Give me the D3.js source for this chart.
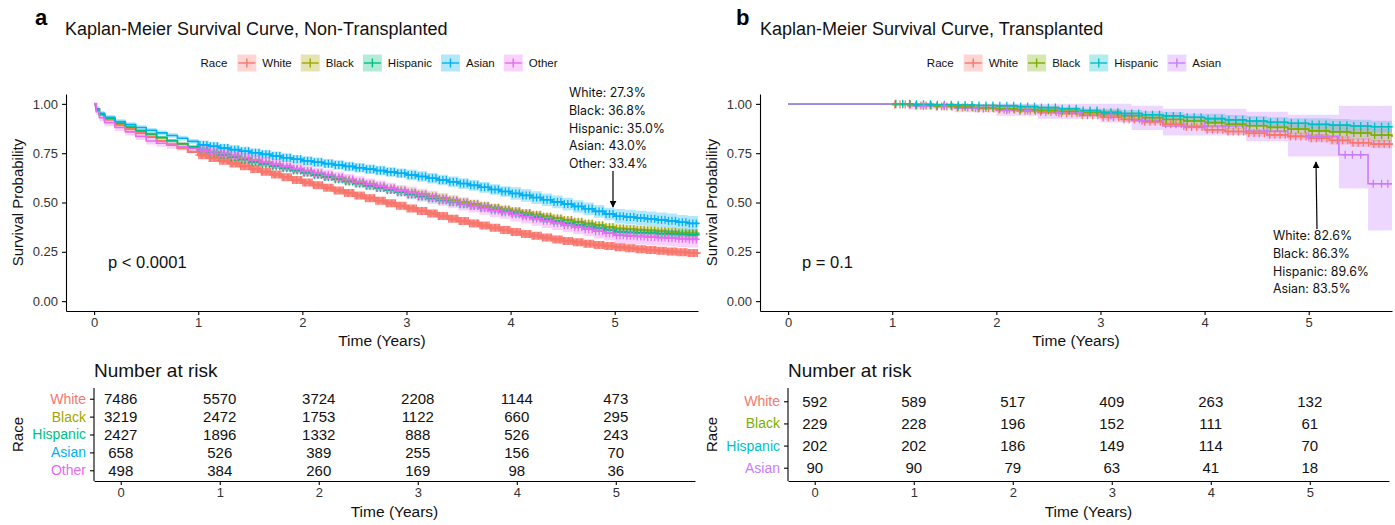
<!DOCTYPE html>
<html>
<head>
<meta charset="utf-8">
<script src="https://cdn.jsdelivr.net/npm/d3@7"></script>
<style>
  body { margin: 0; background: #fff; }
  svg text { font-family: "Liberation Sans", Arial, sans-serif; }
</style>
</head>
<body>
<svg id="chart" width="1395" height="525"></svg>
<script>
// ---- panel a : non-transplanted ----
const timesA = [0, 0.02, 0.05, 0.1, 0.2, 0.3, 0.4, 0.5, 0.6, 0.7, 0.8, 0.9,
  1.0, 1.1, 1.2, 1.3, 1.4, 1.5, 1.6, 1.7, 1.8, 1.9, 2.0, 2.1, 2.2, 2.3, 2.4, 2.5, 2.6, 2.7, 2.8, 2.9,
  3.0, 3.1, 3.2, 3.3, 3.4, 3.5, 3.6, 3.7, 3.8, 3.9, 4.0, 4.1, 4.2, 4.3, 4.4, 4.5, 4.6, 4.7, 4.8, 4.9,
  5.0, 5.1, 5.2, 5.3, 5.4, 5.5, 5.6, 5.7, 5.8];

const survWhiteA = [1.000, 0.972, 0.945, 0.920, 0.892, 0.872, 0.852, 0.832, 0.812, 0.795, 0.775, 0.757,
  0.740, 0.726, 0.712, 0.698, 0.684, 0.670, 0.656, 0.642, 0.628, 0.614, 0.601, 0.588, 0.575, 0.561, 0.548, 0.535, 0.522, 0.509, 0.496, 0.483,
  0.470, 0.457, 0.444, 0.431, 0.418, 0.406, 0.394, 0.383, 0.372, 0.361, 0.350, 0.340, 0.331, 0.322, 0.313, 0.305, 0.298, 0.291, 0.285, 0.279,
  0.273, 0.268, 0.263, 0.259, 0.255, 0.251, 0.248, 0.244, 0.241];
const survBlackA = [1.000, 0.970, 0.946, 0.925, 0.900, 0.880, 0.862, 0.845, 0.828, 0.812, 0.797, 0.781,
  0.766, 0.755, 0.744, 0.733, 0.722, 0.711, 0.700, 0.689, 0.678, 0.667, 0.656, 0.645, 0.634, 0.623, 0.612, 0.601, 0.591, 0.581, 0.571, 0.561,
  0.551, 0.541, 0.531, 0.521, 0.511, 0.501, 0.492, 0.483, 0.474, 0.465, 0.456, 0.447, 0.438, 0.429, 0.420, 0.411, 0.402, 0.393, 0.385, 0.376,
  0.368, 0.365, 0.361, 0.358, 0.354, 0.351, 0.347, 0.344, 0.341];
const survHispanicA = [1.000, 0.972, 0.948, 0.927, 0.902, 0.882, 0.864, 0.847, 0.830, 0.814, 0.798, 0.782,
  0.766, 0.754, 0.742, 0.730, 0.718, 0.706, 0.695, 0.684, 0.673, 0.662, 0.651, 0.640, 0.629, 0.618, 0.607, 0.596, 0.585, 0.574, 0.563, 0.552,
  0.541, 0.531, 0.521, 0.511, 0.501, 0.491, 0.482, 0.473, 0.464, 0.455, 0.446, 0.436, 0.426, 0.416, 0.406, 0.396, 0.387, 0.378, 0.369, 0.359,
  0.350, 0.348, 0.346, 0.344, 0.342, 0.340, 0.338, 0.336, 0.334];
const survAsianA = [1.000, 0.975, 0.952, 0.932, 0.910, 0.895, 0.880, 0.866, 0.853, 0.840, 0.826, 0.810,
  0.792, 0.785, 0.776, 0.768, 0.760, 0.752, 0.744, 0.736, 0.727, 0.719, 0.711, 0.704, 0.697, 0.690, 0.683, 0.676, 0.669, 0.662, 0.655, 0.648,
  0.640, 0.632, 0.623, 0.614, 0.605, 0.596, 0.587, 0.577, 0.566, 0.556, 0.546, 0.536, 0.525, 0.514, 0.503, 0.492, 0.480, 0.468, 0.455, 0.442,
  0.430, 0.426, 0.421, 0.417, 0.412, 0.407, 0.400, 0.394, 0.390];
const survOtherA = [1.000, 0.960, 0.930, 0.905, 0.880, 0.858, 0.835, 0.812, 0.800, 0.790, 0.782, 0.774,
  0.766, 0.757, 0.748, 0.738, 0.727, 0.716, 0.705, 0.694, 0.683, 0.671, 0.660, 0.649, 0.638, 0.627, 0.616, 0.604, 0.593, 0.582, 0.571, 0.560,
  0.548, 0.537, 0.526, 0.515, 0.504, 0.493, 0.482, 0.471, 0.460, 0.450, 0.440, 0.429, 0.418, 0.407, 0.396, 0.385, 0.375, 0.365, 0.354, 0.344,
  0.334, 0.331, 0.328, 0.325, 0.322, 0.319, 0.316, 0.313, 0.310];

// confidence half-widths, one per whole year 0..5
const ciYears = [0, 1, 2, 3, 4, 5];
const ciWhiteA = [0.005, 0.010, 0.011, 0.012, 0.013, 0.014];
const ciBlackA = [0.008, 0.013, 0.014, 0.016, 0.018, 0.021];
const ciHispanicA = [0.008, 0.014, 0.015, 0.017, 0.019, 0.023];
const ciAsianA = [0.012, 0.022, 0.024, 0.027, 0.032, 0.037];
const ciOtherA = [0.018, 0.026, 0.029, 0.033, 0.036, 0.041];

const riskTimes = [0, 1, 2, 3, 4, 5];
const riskWhiteA = [7486, 5570, 3724, 2208, 1144, 473];
const riskBlackA = [3219, 2472, 1753, 1122, 660, 295];
const riskHispanicA = [2427, 1896, 1332, 888, 526, 243];
const riskAsianA = [658, 526, 389, 255, 156, 70];
const riskOtherA = [498, 384, 260, 169, 98, 36];

const noteA = ['White: 27.3%', 'Black: 36.8%', 'Hispanic: 35.0%', 'Asian: 43.0%', 'Other: 33.4%'];

// ---- panel b : transplanted ----
const timesB = [0, 1.0, 1.2, 1.4, 1.6, 1.8, 2.0, 2.2, 2.4, 2.6, 2.8, 3.0, 3.2, 3.4, 3.6, 3.8,
  4.0, 4.2, 4.4, 4.6, 4.8, 5.0, 5.2, 5.4, 5.6, 5.8];
const survWhiteB = [1.000, 0.997, 0.992, 0.987, 0.982, 0.977, 0.971, 0.965, 0.959, 0.952, 0.942, 0.932, 0.921, 0.909, 0.897, 0.883,
  0.869, 0.860, 0.851, 0.843, 0.835, 0.826, 0.815, 0.803, 0.796, 0.792];
const survBlackB = [1.000, 0.998, 0.993, 0.988, 0.984, 0.980, 0.975, 0.971, 0.967, 0.962, 0.956, 0.950, 0.940, 0.930, 0.921, 0.913,
  0.905, 0.897, 0.889, 0.881, 0.872, 0.863, 0.858, 0.852, 0.842, 0.832];
const survHispanicB = [1.000, 1.000, 0.998, 0.996, 0.994, 0.992, 0.990, 0.986, 0.981, 0.975, 0.966, 0.957, 0.951, 0.945, 0.939, 0.932,
  0.925, 0.919, 0.913, 0.907, 0.902, 0.896, 0.892, 0.888, 0.884, 0.880];
const timesAsianB = [0, 1.15, 1.6, 2.0, 2.4, 3.0, 3.3, 3.6, 4.4, 4.8, 5.29, 5.57, 5.8];
const survAsianB = [1.000, 0.989, 0.978, 0.967, 0.955, 0.942, 0.915, 0.888, 0.862, 0.835, 0.742, 0.595, 0.595];
const loAsianB = [1.000, 0.972, 0.958, 0.940, 0.925, 0.905, 0.868, 0.840, 0.810, 0.733, 0.571, 0.358, 0.358];
const hiAsianB = [1.000, 1.000, 1.000, 1.000, 1.000, 1.000, 0.990, 0.975, 0.960, 0.945, 0.990, 0.990, 0.990];
const censorAsianB = [1.3, 1.5, 1.8, 2.1, 2.3, 2.6, 2.8, 3.1, 3.4, 3.8, 4.0, 4.2, 4.6, 5.0, 5.1,
  5.35, 5.42, 5.5, 5.62, 5.7, 5.76];

const ciWhiteB = [0, 0.005, 0.009, 0.013, 0.017, 0.021];
const ciBlackB = [0, 0.007, 0.013, 0.019, 0.026, 0.033];
const ciHispanicB = [0, 0.005, 0.011, 0.018, 0.025, 0.031];

const riskWhiteB = [592, 589, 517, 409, 263, 132];
const riskBlackB = [229, 228, 196, 152, 111, 61];
const riskHispanicB = [202, 202, 186, 149, 114, 70];
const riskAsianB = [90, 90, 79, 63, 41, 18];

const noteB = ['White: 82.6%', 'Black: 86.3%', 'Hispanic: 89.6%', 'Asian: 83.5%'];

// ---- build panels ----
const panelA = {
  letter: 'a', letterX: 35, titleX: 65,
  title: 'Kaplan-Meier Survival Curve, Non-Transplanted',
  left: 66, right: 698, legendX: 379,
  pval: 'p < 0.0001',
  note: noteA, noteX: 569, noteY: 93,
  arrow: { x1: 613, y1: 171, x2: 613, y2: 207 },
  series: [
    { name: 'White', color: '#F8766D', times: timesA, surv: survWhiteA, ci: ciWhiteA, risk: riskWhiteA, dense: 8, lw: 2.2 },
    { name: 'Black', color: '#A3A500', times: timesA, surv: survBlackA, ci: ciBlackA, risk: riskBlackA, dense: 3 },
    { name: 'Hispanic', color: '#00BF7D', times: timesA, surv: survHispanicA, ci: ciHispanicA, risk: riskHispanicA, dense: 3 },
    { name: 'Asian', color: '#00B0F6', times: timesA, surv: survAsianA, ci: ciAsianA, risk: riskAsianA, dense: 3 },
    { name: 'Other', color: '#E76BF3', times: timesA, surv: survOtherA, ci: ciOtherA, risk: riskOtherA, dense: 3 }
  ]
};

const panelB = {
  letter: 'b', letterX: 736, titleX: 760,
  title: 'Kaplan-Meier Survival Curve, Transplanted',
  left: 760, right: 1392, legendX: 1074,
  pval: 'p = 0.1',
  note: noteB, noteX: 1273, noteY: 236,
  arrow: { x1: 1317, y1: 229, x2: 1316, y2: 162 },
  series: [
    { name: 'White', color: '#F8766D', times: timesB, surv: survWhiteB, ci: ciWhiteB, risk: riskWhiteB, dense: 4 },
    { name: 'Black', color: '#7CAE00', times: timesB, surv: survBlackB, ci: ciBlackB, risk: riskBlackB, dense: 3 },
    { name: 'Hispanic', color: '#00BFC4', times: timesB, surv: survHispanicB, ci: ciHispanicB, risk: riskHispanicB, dense: 3 },
    { name: 'Asian', color: '#C77CFF', times: timesAsianB, surv: survAsianB, lo: loAsianB, hi: hiAsianB,
      censor: censorAsianB, risk: riskAsianB }
  ]
};

const svg = d3.select('#chart');

svg.append('defs').append('marker')
  .attr('id', 'arrowhead')
  .attr('viewBox', '0 0 10 10')
  .attr('refX', 9).attr('refY', 5)
  .attr('markerWidth', 7).attr('markerHeight', 7)
  .attr('markerUnits', 'userSpaceOnUse')
  .attr('orient', 'auto')
  .append('path')
  .attr('d', 'M0,0 L10,5 L0,10 Z')
  .attr('fill', '#000');

function styleAxis(g, labelColor) {
  g.select('.domain').attr('stroke', '#000').attr('stroke-width', 1.1);
  g.selectAll('.tick line').attr('stroke', '#000').attr('stroke-width', 1.1);
  g.selectAll('.tick text')
    .attr('fill', labelColor || '#333')
    .style('font-family', '"Liberation Sans", Arial, sans-serif');
}

function drawPanel(p) {
  const g = svg.append('g');
  const top = 94, bottom = 311;

  g.append('text')
    .attr('x', p.letterX).attr('y', 25)
    .attr('font-size', 22).attr('font-weight', 'bold')
    .text(p.letter);

  g.append('text')
    .attr('x', p.titleX).attr('y', 35)
    .attr('font-size', 18).attr('fill', '#111')
    .text(p.title);

  // legend
  const lg = g.append('g');
  let lx = 0;
  const ly = 63;
  const raceT = lg.append('text').attr('x', lx).attr('y', ly).attr('dy', '0.35em')
    .attr('font-size', 11.5).attr('fill', '#111').text('Race');
  lx += raceT.node().getComputedTextLength() + 10;
  p.series.forEach(s => {
    lg.append('rect').attr('x', lx).attr('y', ly - 8.5).attr('width', 19).attr('height', 17)
      .attr('fill', s.color).attr('fill-opacity', 0.3);
    lg.append('line').attr('x1', lx + 1).attr('x2', lx + 18).attr('y1', ly).attr('y2', ly)
      .attr('stroke', s.color).attr('stroke-width', 1.4);
    lg.append('line').attr('x1', lx + 9.5).attr('x2', lx + 9.5).attr('y1', ly - 4.5).attr('y2', ly + 4.5)
      .attr('stroke', s.color).attr('stroke-width', 1.4);
    lx += 19 + 6;
    const t = lg.append('text').attr('x', lx).attr('y', ly).attr('dy', '0.35em')
      .attr('font-size', 11.5).attr('fill', '#111').text(s.name);
    lx += t.node().getComputedTextLength() + 9;
  });
  lg.attr('transform', `translate(${p.legendX - (lx - 9) / 2},0)`);

  // scales
  const x = d3.scaleLinear().domain([-0.27, 5.8]).range([p.left, p.right]);
  const y = d3.scaleLinear().domain([-0.05, 1.05]).range([bottom, top]);

  const pts = p.series.map(s => s.times.map((t, i) => {
    const k = Math.min(5, Math.floor(t));
    const lo = s.lo ? s.lo[i] : Math.max(0, s.surv[i] - s.ci[ciYears.indexOf(k)]);
    const hi = s.hi ? s.hi[i] : Math.min(1, s.surv[i] + s.ci[ciYears.indexOf(k)]);
    return { t, s: s.surv[i], lo, hi };
  }));

  const area = d3.area()
    .x(d => x(d.t)).y0(d => y(d.lo)).y1(d => y(d.hi))
    .curve(d3.curveStepAfter);
  const line = d3.line()
    .x(d => x(d.t)).y(d => y(d.s))
    .curve(d3.curveStepAfter);

  p.series.forEach((s, i) => {
    g.append('path').attr('d', area(pts[i]))
      .attr('fill', s.color).attr('fill-opacity', 0.3).attr('stroke', 'none');
  });
  p.series.forEach((s, i) => {
    g.append('path').attr('d', line(pts[i]))
      .attr('fill', 'none').attr('stroke', s.color).attr('stroke-width', s.lw || 1.6);
  });

  // censor marks: explicit times, or spread over each step after year 1
  p.series.forEach((s, i) => {
    let marks;
    if (s.censor) {
      marks = s.censor;
    } else {
      marks = [];
      s.times.forEach((t, j) => {
        if (t < 1 || j === s.times.length - 1) return;
        const gap = s.times[j + 1] - t;
        for (let m = 0; m < s.dense; m++) marks.push(t + gap * (m + 0.5) / s.dense);
      });
    }
    const cg = g.append('g').attr('stroke', s.color).attr('stroke-width', 1.3);
    marks.forEach(t => {
      const j = d3.bisectRight(s.times, t) - 1;
      const cx = x(t), cy = y(s.surv[j]);
      cg.append('line').attr('x1', cx - 3.5).attr('x2', cx + 3.5).attr('y1', cy).attr('y2', cy);
      cg.append('line').attr('x1', cx).attr('x2', cx).attr('y1', cy - 4).attr('y2', cy + 4);
    });
  });

  // axes
  const yAxis = g.append('g').attr('transform', `translate(${p.left},0)`)
    .call(d3.axisLeft(y).tickValues([0, 0.25, 0.5, 0.75, 1]).tickFormat(d3.format('.2f'))
      .tickSize(4).tickPadding(4).tickSizeOuter(0));
  yAxis.selectAll('.tick text').attr('font-size', 13);
  styleAxis(yAxis);

  const xAxis = g.append('g').attr('transform', `translate(0,${bottom})`)
    .call(d3.axisBottom(x).tickValues(riskTimes).tickFormat(d3.format('d'))
      .tickSize(4).tickPadding(3).tickSizeOuter(0));
  xAxis.selectAll('.tick text').attr('font-size', 13);
  styleAxis(xAxis);

  g.append('text')
    .attr('transform', `translate(${p.left - 48},${(top + bottom) / 2}) rotate(-90)`)
    .attr('text-anchor', 'middle').attr('dy', '0.35em')
    .attr('font-size', 15).attr('fill', '#111')
    .text('Survival Probability');

  g.append('text')
    .attr('x', (p.left + p.right) / 2).attr('y', 341).attr('dy', '0.35em')
    .attr('text-anchor', 'middle').attr('font-size', 15.5).attr('fill', '#111')
    .text('Time (Years)');

  g.append('text')
    .attr('x', x(0) + 14).attr('y', y(0.195)).attr('dy', '0.35em')
    .attr('font-size', 16.5).attr('fill', '#111')
    .text(p.pval);

  // annotation
  p.note.forEach((txt, i) => {
    g.append('text')
      .attr('x', p.noteX).attr('y', p.noteY + i * 17.6).attr('dy', '0.35em')
      .style('font-family', 'Inter, "Open Sans", sans-serif')
      .attr('font-size', 12.4).attr('fill', '#111')
      .text(txt);
  });
  g.append('line')
    .attr('x1', p.arrow.x1).attr('y1', p.arrow.y1)
    .attr('x2', p.arrow.x2).attr('y2', p.arrow.y2)
    .attr('stroke', '#000').attr('stroke-width', 1.2)
    .attr('marker-end', 'url(#arrowhead)');

  // number at risk table
  const tLeft = p.left + 28, tRight = p.right - 3;
  const tTop = 388, tBottom = 481;
  const tx = d3.scaleLinear().domain([-0.27, 5.8]).range([tLeft, tRight]);
  const ty = d3.scalePoint().domain(p.series.map(s => s.name)).range([tTop, tBottom]).padding(0.6);

  g.append('text')
    .attr('x', tLeft).attr('y', 370).attr('dy', '0.35em')
    .attr('font-size', 19).attr('fill', '#111')
    .text('Number at risk');

  p.series.forEach(s => {
    g.append('g').selectAll('text')
      .data(s.risk)
      .join('text')
      .attr('x', (d, i) => tx(riskTimes[i]))
      .attr('y', ty(s.name)).attr('dy', '0.35em')
      .attr('text-anchor', 'middle').attr('font-size', 15).attr('fill', '#111')
      .text(d => d);
  });

  const tyAxis = g.append('g').attr('transform', `translate(${tLeft},0)`)
    .call(d3.axisLeft(ty).tickSize(4).tickPadding(4).tickSizeOuter(0));
  tyAxis.selectAll('.tick text').attr('font-size', 14);
  styleAxis(tyAxis);
  tyAxis.selectAll('.tick text').attr('fill', d => p.series.find(s => s.name === d).color);
  tyAxis.select('.domain').attr('d', `M0,${tTop}V${tBottom}`);

  const txAxis = g.append('g').attr('transform', `translate(0,${tBottom})`)
    .call(d3.axisBottom(tx).tickValues(riskTimes).tickFormat(d3.format('d'))
      .tickSize(4).tickPadding(3).tickSizeOuter(0));
  txAxis.selectAll('.tick text').attr('font-size', 13);
  styleAxis(txAxis);

  g.append('text')
    .attr('transform', `translate(${p.left - 48},${(tTop + tBottom) / 2}) rotate(-90)`)
    .attr('text-anchor', 'middle').attr('dy', '0.35em')
    .attr('font-size', 15).attr('fill', '#111')
    .text('Race');

  g.append('text')
    .attr('x', (tLeft + tRight) / 2).attr('y', 512).attr('dy', '0.35em')
    .attr('text-anchor', 'middle').attr('font-size', 15.5).attr('fill', '#111')
    .text('Time (Years)');
}

drawPanel(panelA);
drawPanel(panelB);
</script>
</body>
</html>
